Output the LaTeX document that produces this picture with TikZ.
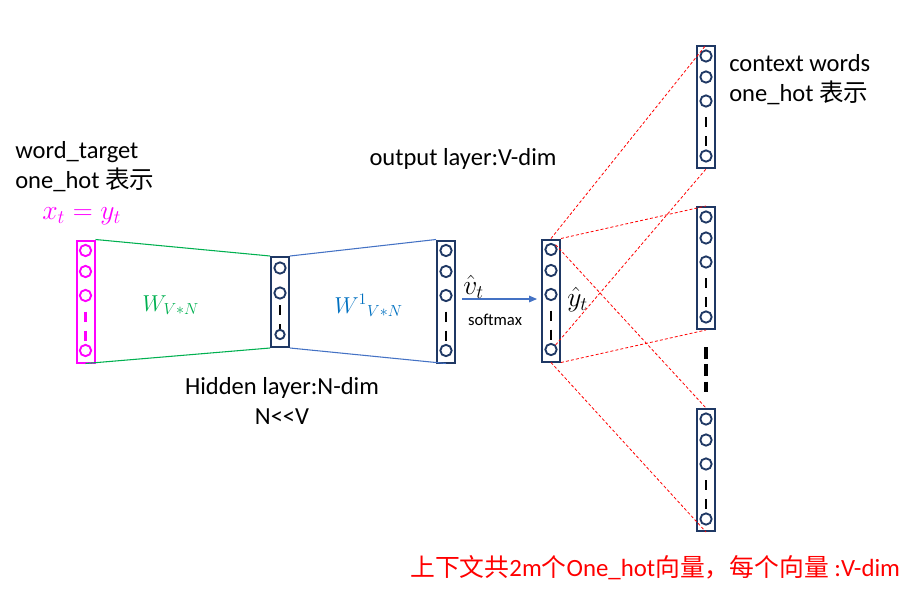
\documentclass[tikz,border=0pt]{standalone}
\usepackage{fontspec}
\setmainfont{Carlito}
\newfontfamily\cjk{Noto Sans CJK SC}
\usetikzlibrary{arrows.meta}
\definecolor{navy}{RGB}{31,56,100}
\definecolor{mag}{RGB}{255,0,255}
\definecolor{grn}{RGB}{0,176,80}
\definecolor{lblue}{RGB}{68,114,196}
\definecolor{wblue}{RGB}{0,112,192}
\definecolor{rd}{RGB}{255,0,0}
\tikzset{
  layerbox/.style={draw, line width=1.5pt, minimum width=13.5pt, minimum height=91.5pt, inner sep=0pt},
  hidbox/.style={draw, line width=1.5pt, minimum width=13.5pt, minimum height=67.5pt, inner sep=0pt},
  neuron/.style={circle, draw, line width=1.4pt, minimum size=8.5pt, inner sep=0pt},
  sneuron/.style={circle, draw, line width=1.4pt, minimum size=7pt, inner sep=0pt},
  vdash/.style={line width=1.6pt, dash pattern=on 7.5pt off 6.75pt},
  reddash/.style={rd, line width=0.6pt, dash pattern=on 2.2pt off 1.6pt},
  lbl/.style={font=\fontsize{18.4}{22}\selectfont, inner sep=0pt},
}
\newcommand\vlayer[5]{% name, xcenter, ytop, color, dash color
  \node[layerbox, draw=#4] (#1) at (#2,#3+61) {};
  \foreach \dy/\k in {10/a,31/b,55/c,110/d}
    \node[neuron, draw=#4] (#1-\k) at (#2,#3+\dy) {};
  \coordinate (#1-s) at (#2,#3+71);
  \draw[vdash, draw=#5] (#1-s) -- (#1-d.north);
}
\begin{document}
\begin{tikzpicture}[x=0.75pt,y=-0.75pt]
\useasboundingbox (0,0) rectangle (916,596);

% layers
\vlayer{in}{85.5}{240.5}{mag}{mag}
\node[hidbox, draw=navy] (hid) at (280,302) {};
\node[neuron, draw=navy] (hid-a) at (280,268) {};
\node[neuron, draw=navy] (hid-b) at (280,293) {};
\node[sneuron, draw=navy] (hid-c) at (280,334.5) {};
\coordinate (hid-s) at (280,305);
\draw[vdash, draw=black] (hid-s) -- (hid-c.north);
\vlayer{out}{446}{240.5}{navy}{black}
\vlayer{yh}{551}{239.5}{navy}{black}
\vlayer{c1}{706}{46}{navy}{black}
\vlayer{c2}{706}{207}{navy}{black}
\vlayer{c3}{706}{409}{navy}{black}

% weights
\draw[grn, line width=0.8pt] (in.north east) -- (hid.north west);
\draw[grn, line width=0.8pt] (in.south) -- (hid.south west);
\draw[lblue, line width=0.8pt] (hid.north east) -- (out.north west);
\draw[lblue, line width=0.8pt] (hid.south east) -- (out.south);

% softmax arrow
\coordinate (arrs) at (462,299);
\coordinate (arre) at (537,299);
\draw[lblue, line width=0.8pt, -{Triangle[length=6pt,width=5pt]}] (arrs) -- (arre);

% red dashed links
\draw[reddash] (yh.north) -- (c1.north);
\draw[reddash] (yh-d.north east) -- (c1.south);
\draw[reddash] (yh.north east) -- (c2.north);
\draw[reddash] (yh.south east) -- (c2.south);
\draw[reddash] (yh-a.north east) -- (c3.north);
\draw[reddash] (yh.south) -- (c3.south);

% ellipsis between context layers
\coordinate (e1) at (706,347);
\coordinate (e2) at (706,392);
\draw[line width=2.4pt, dash pattern=on 9pt off 4pt] (e1) -- (e2);

% texts
\node[lbl, anchor=base west] (t1) at (15,158) {word\_target};
\node[lbl, anchor=base west] (t2) at (15,188) {one\_hot {\cjk 表示}};
\node[lbl, anchor=base west, text=mag, font=\fontsize{21}{24}\selectfont] (t3) at (42,219) {$x_t=y_t$};
\node[lbl, anchor=base west, text=grn, font=\fontsize{18}{20}\selectfont] (t4) at (142,311) {$W_{V*N}$};
\node[lbl, anchor=base west, text=wblue, font=\fontsize{18}{20}\selectfont] (t5) at (334,313) {$W^{1}{}_{V*N}$};
\node[lbl, anchor=base] (t6) at (282,394) {Hidden layer:N-dim};
\node[lbl, anchor=base] (t7) at (282,424) {N<{}<V};
\node[lbl, anchor=base] (t8) at (463,165) {output layer:V-dim};
\node[lbl, anchor=base west, font=\fontsize{20}{22}\selectfont] (t9) at (463,294) {$\hat{v}_t$};
\node[lbl, anchor=base, font=\fontsize{12.5}{14}\selectfont] (t10) at (495,325) {softmax};
\node[lbl, anchor=base west, font=\fontsize{20}{22}\selectfont] (t11) at (567,306) {$\hat{y}_t$};
\node[lbl, anchor=base west] (t12) at (729,71) {context words};
\node[lbl, anchor=base west] (t13) at (729,101) {one\_hot {\cjk 表示}};
\node[lbl, anchor=base west, text=rd, font=\fontsize{18.6}{22}\selectfont] (t14) at (410,576) {{\cjk 上下文共}2m{\cjk 个}One\_hot{\cjk 向量，每个向量} :V-dim};
\end{tikzpicture}
\end{document}
